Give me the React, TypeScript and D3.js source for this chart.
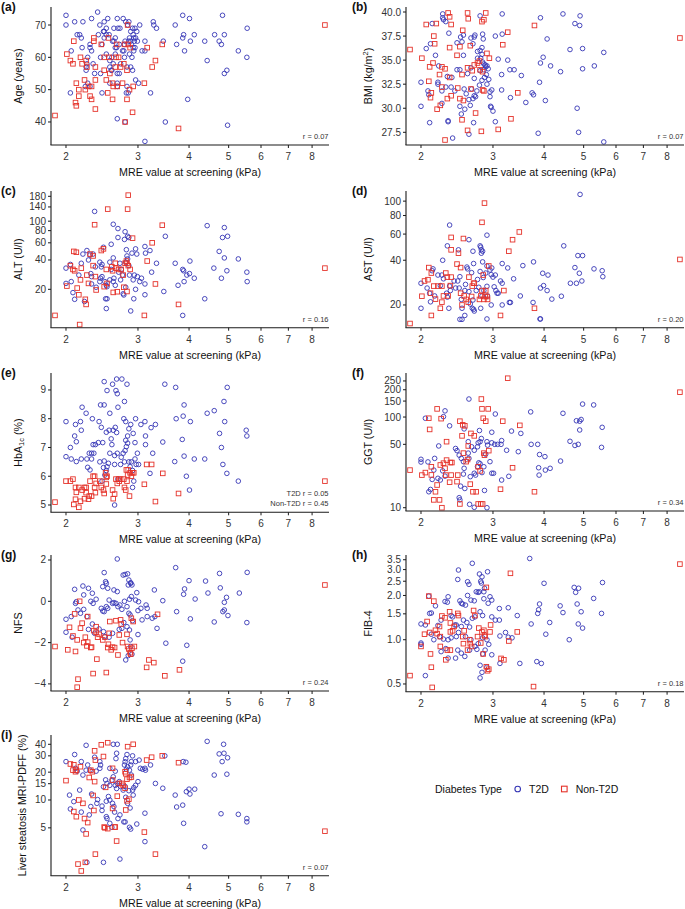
import React from 'react';
import * as d3 from 'd3';

const W = 685;
const H = 909;
const FONT = '"Liberation Sans", Arial, Helvetica, sans-serif';
const BLUE = '#3535b5';
const RED = '#e5322a';

type Pt = [number, number];

const MRE_TICKS = [2, 3, 4, 5, 6, 7, 8];
const MRE_RANGE = [1.838, 8.8];
const X_TITLE = 'MRE value at screening (kPa)';
const LEGEND_TITLE = 'Diabetes Type';
const GROUPS = ['T2D', 'Non-T2D'];

const AGE_TICKS = [40, 50, 60, 70];
const BMI_TICKS = [27.5, 30, 32.5, 35, 37.5, 40];
const ALT_TICKS = [20, 40, 60, 80, 100, 140, 180];
const AST_TICKS = [20, 40, 60, 80, 100];
const HBA1C_TICKS = [5, 6, 7, 8, 9];
const GGT_TICKS = [10, 50, 100, 150, 200, 250];
const NFS_TICKS = [-4, -2, 0, 2];
const FIB4_TICKS = [0.5, 1, 1.5, 2, 2.5, 3, 3.5];
const PDFF_TICKS = [5, 10, 15, 20, 30, 40];

const AGE_T2D: Pt[] = [[2.00,73],[2.39,74],[3.86,73],[4.83,73],[2.31,72],[2.53,72],[2.67,72],[2.76,72],[4.01,72],[2.10,71],[2.20,71],[2.48,71],[2.80,71],[2.85,71],[3.27,71],[2.00,70],[2.42,70],[2.83,70],[3.03,70],[3.28,70],[3.70,70],[2.51,69],[2.68,69],[2.71,69],[2.91,69],[2.95,69],[3.33,69],[5.55,69],[2.47,68],[2.48,68],[2.88,68],[2.98,68],[2.13,67],[2.16,67],[2.51,67],[2.92,67],[3.88,67],[4.12,67],[4.62,67],[4.88,67],[2.18,66],[2.48,66],[2.64,66],[2.93,66],[2.96,66],[3.86,66],[2.62,65],[2.79,65],[2.85,65],[2.94,65],[2.99,65],[3.12,65],[3.46,65],[4.03,65],[4.37,65],[4.74,65],[2.29,64],[2.78,64],[2.89,64],[3.73,64],[4.80,64],[2.19,63],[2.29,63],[2.64,63],[2.92,63],[2.66,63],[2.06,62],[2.31,62],[2.77,62],[2.93,62],[3.07,62],[3.12,62],[3.90,62],[5.28,62],[2.51,61],[2.64,61],[2.86,61],[2.26,60],[2.43,60],[2.59,60],[2.90,60],[5.54,60],[2.56,59],[4.43,59],[2.25,58],[2.61,58],[2.24,57],[2.56,57],[2.82,57],[2.88,57],[2.24,56],[2.59,56],[2.91,56],[4.95,56],[2.35,55],[2.43,55],[2.67,55],[4.88,55],[2.96,53],[2.26,52],[2.56,52],[2.67,52],[3.01,52],[2.23,51],[2.29,51],[2.67,51],[2.82,51],[2.05,49],[2.45,49],[2.81,49],[3.22,49],[2.84,49],[3.97,47],[2.67,41],[2.79,40],[3.50,40],[4.97,39],[3.12,34],[2.70,64],[2.75,62],[2.55,67],[2.60,65],[2.72,58],[2.86,66],[2.40,67],[2.33,58],[2.78,60],[2.45,64],[2.58,56],[2.88,65],[2.70,55],[2.62,69],[2.95,63]];
const AGE_NON: Pt[] = [[1.88,42],[2.01,61],[2.05,59],[2.08,58],[2.09,65],[2.11,46],[2.12,45],[2.12,52],[2.15,50],[2.15,48],[2.17,60],[2.19,58],[2.22,53],[2.23,50],[2.24,59],[2.25,57],[2.27,51],[2.29,48],[2.31,47],[2.31,51],[2.34,66],[2.34,65],[2.36,57],[2.36,44],[2.36,53],[2.44,64],[2.48,60],[2.48,56],[2.51,53],[2.53,49],[2.54,66],[2.55,60],[2.56,55],[2.60,47],[2.60,52],[2.61,51],[2.64,57],[2.65,60],[2.66,64],[2.67,51],[2.69,60],[2.72,57],[2.75,52],[2.77,58],[2.79,40],[2.78,64],[2.82,56],[2.82,47],[2.83,70],[2.84,64],[2.86,50],[2.87,63],[2.91,43],[2.92,51],[3.11,52],[3.16,63],[3.25,57],[3.31,59],[3.44,64],[3.77,38],[8.6,70]];

const BMI_T2D: Pt[] = [[2.26,39.8],[2.26,39.4],[2.27,39.2],[2.30,39.0],[2.13,38.8],[2.79,39.6],[3.16,39.8],[3.92,39.4],[4.45,39.8],[4.90,39.6],[4.76,38.8],[4.89,38.6],[2.34,37.8],[2.50,37.4],[2.54,37.6],[2.65,37.3],[2.70,37.4],[2.71,37.6],[2.83,37.7],[2.84,37.2],[3.04,37.5],[3.16,37.7],[4.07,37.2],[2.11,36.7],[2.06,36.2],[2.45,36.8],[2.68,36.7],[2.79,36.0],[4.63,36.1],[4.97,36.2],[5.60,35.8],[2.17,35.5],[2.54,35.5],[2.82,35.6],[3.98,35.3],[3.92,34.7],[4.15,34.4],[3.09,35.1],[3.26,35.0],[2.75,35.2],[2.21,34.4],[2.32,33.3],[2.49,34.0],[2.38,33.2],[2.70,33.1],[3.30,34.0],[3.38,34.0],[3.15,33.5],[3.52,33.4],[4.39,33.8],[4.97,34.1],[5.31,34.4],[2.00,32.7],[2.20,32.7],[2.20,32.5],[2.25,31.8],[2.30,32.2],[2.42,31.8],[2.66,32.0],[2.70,31.3],[2.95,31.2],[2.98,31.9],[3.15,31.9],[3.31,31.1],[3.74,31.6],[3.77,31.4],[3.90,32.7],[2.08,31.8],[2.09,31.4],[2.00,30.2],[2.25,30.5],[2.49,30.2],[2.51,29.4],[2.56,29.9],[2.64,30.3],[2.96,30.2],[3.00,29.7],[3.04,28.6],[3.61,30.6],[4.03,30.8],[4.82,30.0],[2.10,28.5],[2.33,28.7],[2.33,28.6],[2.69,28.5],[2.62,27.3],[2.39,26.9],[3.87,27.4],[4.86,27.5],[5.60,26.5],[2.80,35.2],[2.83,34.8],[2.85,34.6],[2.87,34.5],[2.88,34.3],[2.90,34.4],[2.92,34.1],[2.85,34.0],[2.89,33.5],[2.86,33.2],[2.82,32.9],[2.90,32.5],[2.93,33.0],[2.78,32.4],[2.74,31.8],[2.72,31.2],[2.68,31.0],[2.62,30.9],[2.58,31.5],[2.55,32.0],[2.60,33.6],[2.65,34.2],[2.75,35.9],[2.82,36.3],[2.79,33.9],[2.95,31.7],[2.97,30.1],[2.45,34.0],[2.52,36.9],[2.37,32.2]];
const BMI_NON: Pt[] = [[1.88,36.1],[2.01,35.2],[2.06,38.7],[2.09,32.8],[2.10,34.3],[2.11,31.1],[2.12,31.6],[2.14,34.7],[2.15,37.5],[2.16,36.7],[2.18,38.8],[2.19,29.9],[2.22,33.5],[2.23,30.3],[2.25,34.3],[2.25,32.2],[2.29,34.1],[2.29,26.7],[2.32,31.0],[2.33,39.9],[2.35,36.3],[2.35,33.2],[2.35,39.5],[2.37,38.7],[2.37,31.3],[2.45,35.5],[2.46,32.1],[2.49,31.0],[2.49,36.4],[2.52,33.5],[2.52,28.8],[2.53,38.1],[2.54,30.8],[2.60,39.9],[2.61,39.3],[2.60,27.7],[2.60,34.2],[2.64,36.5],[2.65,32.0],[2.67,33.9],[2.70,34.5],[2.72,29.5],[2.75,34.7],[2.78,34.9],[2.79,34.0],[2.81,27.6],[2.82,39.0],[2.83,33.8],[2.83,31.9],[2.85,39.2],[2.85,31.8],[2.88,39.9],[2.90,35.7],[2.94,35.2],[3.09,27.8],[3.17,36.6],[3.26,37.9],[3.32,28.9],[3.45,31.6],[3.79,38.6],[8.6,37.3]];

const ALT_T2D: Pt[] = [[2.35,126],[2.61,93],[2.68,84],[2.79,78],[2.83,70],[2.85,68],[2.78,65],[2.68,68],[2.58,58],[3.12,55],[3.21,50],[3.13,47],[3.50,70],[3.33,37],[3.24,30],[3.47,19],[3.70,37],[3.86,32],[3.88,31],[3.95,28],[4.01,29],[4.02,39],[4.12,26],[3.89,24],[3.76,22],[3.86,10.8],[4.37,16],[4.43,90],[4.60,33],[4.74,49],[4.80,26],[4.83,68],[4.88,86],[4.88,42],[4.95,31],[4.97,70],[5.28,41],[5.54,30],[5.55,24],[2.00,33],[2.00,23],[2.05,36],[2.06,24],[2.08,18.5],[2.10,15.8],[2.15,28],[2.18,37],[2.20,46],[2.22,15],[2.25,50],[2.27,40],[2.29,45],[2.30,29],[2.31,27],[2.31,22.7],[2.33,46],[2.36,34],[2.42,38],[2.44,34],[2.45,36],[2.47,54],[2.43,26],[2.45,27],[2.49,24],[2.50,16],[2.52,16],[2.51,12.7],[2.51,22],[2.52,21.3],[2.56,25],[2.56,38],[2.58,32],[2.61,24],[2.62,26],[2.64,22],[2.69,30],[2.72,25],[2.73,32],[2.76,18],[2.77,17.5],[2.80,21],[2.80,38],[2.81,51],[2.82,44],[2.83,41],[2.85,35],[2.86,28],[2.88,12],[2.90,47],[2.92,25],[2.93,16],[2.94,28],[2.96,20],[2.96,52],[2.98,46],[2.99,27],[3.03,24],[3.06,26],[3.12,17.6],[3.12,22.7],[2.71,37],[2.75,28],[2.61,42],[2.42,24],[2.37,21]];
const ALT_NON: Pt[] = [[1.88,10.8],[2.01,21.6],[2.05,35],[2.08,32],[2.09,49],[2.10,31],[2.12,48],[2.13,20.6],[2.15,17.6],[2.16,8.7],[2.17,25],[2.18,33],[2.23,15.8],[2.24,14],[2.25,28],[2.27,23],[2.29,46],[2.33,44],[2.33,35],[2.35,92],[2.36,27],[2.37,19.7],[2.44,50],[2.47,52],[2.48,21.3],[2.51,32],[2.52,23],[2.53,133],[2.59,34],[2.60,31],[2.61,18.6],[2.64,37],[2.65,33],[2.67,18.9],[2.69,32],[2.73,32],[2.76,28],[2.77,21],[2.79,37],[2.81,39],[2.82,19],[2.82,37],[2.83,133],[2.84,35],[2.87,32],[2.91,67],[3.11,10.8],[3.16,39],[3.25,60],[3.31,22.7],[3.44,91],[3.77,14],[8.6,33],[2.84,185]];

const AST_T2D: Pt[] = [[2.35,69],[2.32,50],[2.26,40],[2.47,47],[2.62,55],[2.68,46],[2.69,38],[2.79,50],[2.80,49],[2.81,47],[2.83,46],[2.81,44.6],[2.90,59],[2.83,39],[2.90,36.6],[2.98,35.5],[3.16,38],[3.26,35.5],[3.37,30],[3.55,36.8],[3.77,39],[3.97,32.7],[4.09,31.8],[3.99,27],[3.92,26],[4.07,25],[4.18,21.9],[4.41,22.9],[4.47,50],[4.64,28],[4.76,35.7],[4.80,28],[4.84,43],[4.88,32.7],[4.95,29],[4.97,43],[5.30,35],[5.55,34],[5.57,31],[3.50,23],[3.29,20.8],[3.31,20.8],[3.76,20.8],[3.91,16.1],[3.92,16.1],[3.16,20],[3.13,29],[3.16,28],[3.07,24],[2.90,16.1],[2.97,20],[4.90,111],[2.00,28],[2.00,19],[2.07,26],[2.11,21],[2.10,24],[2.13,34],[2.14,35],[2.16,23],[2.20,31.8],[2.23,27],[2.25,31.8],[2.27,30],[2.31,24],[2.32,22.6],[2.34,19],[2.35,26.8],[2.36,25],[2.41,29],[2.43,26],[2.46,29],[2.48,26],[2.49,31],[2.51,21.8],[2.52,19],[2.52,16],[2.56,25],[2.57,27.5],[2.59,36],[2.60,35],[2.62,24.6],[2.64,20.3],[2.66,33],[2.67,19],[2.68,21.6],[2.69,18.7],[2.70,18.2],[2.73,25],[2.75,29.7],[2.77,26.3],[2.79,33.6],[2.80,19],[2.82,23],[2.84,30.6],[2.85,25],[2.88,32.8],[2.90,26.7],[2.91,23],[2.95,34.4],[2.97,32],[3.00,30.8],[3.02,26.5],[3.04,31.8],[3.05,25],[3.09,24],[2.49,16],[2.56,17]];
const AST_NON: Pt[] = [[1.88,15],[2.01,22.9],[2.04,29],[2.09,35.7],[2.08,29.6],[2.11,24],[2.12,32.8],[2.12,17],[2.15,26.8],[2.17,21.9],[2.20,26.8],[2.23,19],[2.25,26.8],[2.25,20.9],[2.27,23],[2.30,32.8],[2.32,30.8],[2.33,23],[2.36,27],[2.37,30.8],[2.37,57],[2.37,47],[2.45,37.7],[2.47,44.6],[2.50,35.7],[2.50,24],[2.52,20],[2.54,56],[2.55,23],[2.58,21.8],[2.61,20.9],[2.62,30.8],[2.66,22.8],[2.67,26.8],[2.69,28],[2.70,28],[2.78,21.8],[2.80,23],[2.82,25],[2.82,72],[2.84,31.8],[2.85,21.8],[2.86,97],[2.87,22.8],[2.88,25],[2.90,22.8],[2.91,21.8],[2.93,36.6],[3.13,17],[3.19,25],[3.28,46],[3.35,55],[3.48,62],[3.79,19],[8.6,40.5]];

const HBA1C_T2D: Pt[] = [[2.48,9.29],[2.52,8.98],[2.60,9.2],[2.66,9.38],[2.74,9.38],[2.65,8.98],[2.67,8.87],[2.82,9.2],[3.49,9.2],[3.71,9.09],[4.96,9.09],[2.19,8.4],[2.43,8.48],[2.48,8.48],[2.68,8.4],[2.78,8.6],[3.89,8.48],[4.87,8.6],[2.24,8.19],[2.32,8.0],[2.00,7.9],[2.17,7.9],[2.11,7.8],[2.41,7.9],[2.56,8.19],[2.77,8.0],[2.80,7.9],[2.88,7.8],[2.85,7.65],[2.96,8.0],[3.05,7.8],[3.12,7.9],[3.31,7.8],[3.23,7.69],[3.72,8.0],[3.87,8.09],[4.03,7.9],[4.43,8.19],[4.61,8.28],[4.89,7.9],[4.75,7.49],[5.52,7.6],[5.54,7.4],[2.10,7.4],[2.12,7.2],[2.18,7.6],[2.44,7.7],[2.51,7.53],[2.55,7.6],[2.61,7.6],[2.64,7.7],[2.66,7.52],[2.58,7.3],[2.46,7.17],[2.40,7.17],[2.36,7.1],[2.33,7.1],[2.59,7.1],[2.83,7.4],[2.80,7.25],[2.92,7.49],[2.95,7.17],[3.13,7.4],[3.13,7.1],[3.45,7.19],[3.85,7.28],[4.80,7.0],[2.00,6.68],[2.05,7.0],[2.06,6.6],[2.12,6.51],[2.18,6.6],[2.25,6.6],[2.28,6.8],[2.31,6.8],[2.34,6.8],[2.31,6.6],[2.26,6.31],[2.29,6.22],[2.42,6.5],[2.48,6.53],[2.54,6.45],[2.52,6.33],[2.47,6.3],[2.51,6.2],[2.49,6.04],[2.45,5.83],[2.56,6.8],[2.63,6.72],[2.67,6.8],[2.63,6.41],[2.72,6.41],[2.73,6.66],[2.76,6.8],[2.79,6.89],[2.78,6.5],[2.81,7.03],[2.83,7.15],[2.85,6.5],[2.87,6.33],[2.89,6.5],[2.95,6.6],[2.97,6.41],[2.99,6.8],[3.01,6.41],[2.91,6.2],[2.91,5.61],[2.93,5.83],[2.63,5.0],[3.21,6.1],[3.26,6.8],[3.69,6.51],[3.89,6.7],[3.94,6.0],[4.12,6.6],[4.37,6.6],[4.84,6.41],[4.95,6.1],[5.28,5.83],[4.01,5.52],[2.68,5.9]];
const HBA1C_NON: Pt[] = [[1.88,5.1],[2.00,5.83],[2.05,5.83],[2.08,5.9],[2.09,5.02],[2.11,5.2],[2.11,5.61],[2.12,5.44],[2.15,4.92],[2.15,5.61],[2.17,5.13],[2.19,5.52],[2.22,5.61],[2.22,5.22],[2.24,5.43],[2.24,5.61],[2.27,5.2],[2.28,5.31],[2.29,5.83],[2.31,5.31],[2.33,6.0],[2.35,6.0],[2.35,5.61],[2.36,5.43],[2.37,5.75],[2.42,5.83],[2.44,5.61],[2.47,5.52],[2.48,5.4],[2.50,6.12],[2.51,5.96],[2.52,6.0],[2.51,5.73],[2.60,5.52],[2.61,5.22],[2.63,5.38],[2.65,5.9],[2.67,5.75],[2.69,5.9],[2.70,5.83],[2.72,5.9],[2.77,5.9],[2.78,5.61],[2.80,5.52],[2.81,6.22],[2.82,5.83],[2.84,6.22],[2.83,6.04],[2.86,5.31],[2.87,6.12],[2.89,6.0],[2.91,6.12],[2.93,6.12],[3.11,5.72],[3.15,6.41],[3.24,6.41],[3.31,5.12],[3.45,6.1],[3.77,5.4],[8.6,5.83]];

const GGT_T2D: Pt[] = [[2.05,97],[2.29,117],[2.27,101],[2.35,80],[2.21,48],[2.55,74],[2.78,71],[2.81,58],[2.79,53.5],[2.76,52],[2.61,53.5],[2.90,53.5],[2.91,49],[2.98,68],[3.04,108],[2.98,52],[3.03,50],[3.08,50],[3.14,50],[3.15,55],[3.24,43],[3.33,70],[3.51,66],[3.46,41.5],[3.71,114],[3.72,50],[3.86,50],[3.90,38.6],[4.02,36.6],[3.88,27.6],[3.89,22.9],[4.03,26],[4.14,27.2],[4.39,32.7],[4.45,110],[4.63,54],[4.76,48.6],[4.85,50],[4.80,91],[4.89,90],[4.93,94],[4.89,72],[4.97,139],[5.29,136],[5.55,77],[5.53,46.3],[3.15,20.2],[3.28,22.2],[2.86,15.5],[2.90,10],[2.70,10.1],[2.63,10.9],[2.48,12.9],[2.49,12.2],[2.56,16.3],[2.50,17.3],[2.23,20.2],[2.20,21.1],[2.15,26],[2.13,20.5],[2.11,15.9],[2.09,15],[2.00,34.2],[2.00,31.9],[2.08,32],[2.16,35],[2.26,25.5],[2.29,22.3],[2.43,45],[2.45,42.6],[2.48,38],[2.51,35],[2.54,32.2],[2.55,27.2],[2.61,40],[2.62,35],[2.66,47],[2.70,24],[2.72,22.9],[2.75,28.3],[2.77,31.3],[2.79,30.5],[2.82,24.4],[2.85,28.3],[2.88,39],[2.95,32.2],[2.98,24],[3.01,24],[2.70,43],[2.75,47],[2.64,22],[2.54,23.5],[2.62,158]];
const GGT_NON: Pt[] = [[1.88,26],[2.01,22.9],[2.05,24.4],[2.09,97],[2.10,73],[2.12,28.3],[2.12,23],[2.15,12.2],[2.17,15],[2.19,17.8],[2.19,123],[2.22,12.2],[2.24,96],[2.25,10],[2.23,29.6],[2.27,31],[2.29,27.2],[2.30,22.9],[2.31,33.5],[2.31,53.5],[2.35,19.1],[2.36,31.5],[2.37,22.9],[2.38,31.5],[2.45,19.4],[2.46,22.9],[2.49,11],[2.49,90],[2.53,82],[2.52,62],[2.54,40],[2.56,80],[2.58,32.2],[2.60,34],[2.61,48],[2.64,18.2],[2.65,66],[2.68,15],[2.70,62],[2.73,15],[2.76,11],[2.76,28.3],[2.79,25.5],[2.80,11],[2.81,158],[2.82,123],[2.83,11],[2.84,97],[2.85,40],[2.86,38],[2.88,90],[2.92,123],[2.93,42.6],[3.13,16],[3.17,90],[3.35,27.6],[3.49,81],[3.79,15],[3.26,268],[8.6,188]];

const NFS_T2D: Pt[] = [[2.67,2.05],[2.48,1.39],[2.76,1.27],[2.79,1.3],[2.83,1.33],[3.71,1.63],[4.75,1.35],[5.55,1.4],[2.50,0.95],[2.51,0.87],[2.85,1.03],[2.88,0.9],[2.84,0.79],[2.88,0.87],[2.90,0.79],[2.20,0.74],[2.27,0.63],[2.10,0.58],[2.21,0.31],[2.32,0.39],[2.46,0.71],[2.53,0.63],[2.62,0.55],[2.67,0.47],[3.29,0.55],[4.00,1.0],[4.39,0.98],[4.77,0.65],[3.90,0.6],[3.88,0.34],[4.45,0.4],[5.31,0.4],[4.94,0.19],[4.88,-0.05],[4.14,0.11],[3.45,0.03],[3.73,-0.5],[4.84,-0.5],[4.88,-0.42],[4.98,-0.69],[4.03,-0.85],[4.61,-1.0],[5.54,-1.03],[3.34,-1.31],[3.51,-2.03],[3.95,-2.13],[3.86,-2.9],[2.80,-2.84],[2.84,-2.63],[2.88,-2.19],[2.90,-2.56],[2.00,-0.87],[2.00,-1.5],[2.06,-0.74],[2.07,-1.74],[2.11,-0.1],[2.12,-0.02],[2.14,-0.42],[2.21,-0.39],[2.30,0.0],[2.33,-0.1],[2.37,0.1],[2.44,-0.34],[2.46,-0.47],[2.48,-0.5],[2.51,-0.26],[2.53,-0.34],[2.55,0.06],[2.60,-0.1],[2.62,-0.06],[2.65,-0.1],[2.68,-0.26],[2.71,-0.18],[2.74,-0.39],[2.78,0.0],[2.82,-0.26],[2.86,0.1],[2.89,0.23],[2.96,0.06],[2.98,0.42],[3.01,-0.02],[3.05,-0.34],[3.14,-0.18],[3.16,-0.34],[3.16,-0.74],[3.25,-0.82],[3.30,-0.74],[3.07,-0.9],[3.00,-0.45],[2.85,-0.58],[2.87,-0.66],[2.91,-0.94],[2.32,-1.1],[2.27,-1.36],[2.35,-1.55],[2.41,-1.34],[2.47,-1.47],[2.49,-1.71],[2.55,-1.74],[2.60,-1.55],[2.70,-1.36],[2.74,-1.31],[2.77,-1.03],[2.82,-1.23],[2.86,-1.39],[2.87,-1.87],[3.00,-1.61],[2.25,-0.74],[2.17,-0.58]];
const NFS_NON: Pt[] = [[1.88,-2.19],[2.02,-2.35],[2.04,-1.26],[2.08,-1.68],[2.10,-0.61],[2.11,-2.43],[2.13,-1.87],[2.14,-3.77],[2.13,-4.16],[2.16,0.0],[2.17,-1.3],[2.19,-1.06],[2.21,-2.0],[2.23,-1.74],[2.25,-2.16],[2.26,-0.74],[2.26,-1.98],[2.30,-2.24],[2.31,-2.22],[2.33,-3.5],[2.34,-1.42],[2.37,-1.5],[2.37,-1.23],[2.38,-2.8],[2.39,-1.74],[2.41,-1.6],[2.46,-1.87],[2.49,-1.74],[2.51,-3.45],[2.53,-2.24],[2.54,-2.08],[2.55,-1.55],[2.56,-0.98],[2.58,-2.35],[2.60,-2.22],[2.63,-2.24],[2.65,-0.94],[2.68,-2.6],[2.70,-1.63],[2.72,-0.9],[2.73,-1.1],[2.75,-2.0],[2.82,-1.6],[2.83,-2.19],[2.85,-2.31],[2.87,-2.49],[2.88,-2.56],[2.89,-0.82],[2.90,-2.27],[2.92,-0.98],[2.94,-2.19],[3.15,-3.2],[3.19,-2.84],[3.28,-2.97],[3.35,-0.63],[3.49,-3.61],[3.79,-3.32],[8.6,0.79]];

const FIB4_T2D: Pt[] = [[2.67,3.31],[2.47,2.98],[2.91,2.9],[2.78,2.8],[2.82,2.68],[2.46,2.57],[2.60,2.48],[2.62,2.38],[2.80,2.5],[2.81,2.43],[2.86,2.24],[2.85,2.12],[2.78,2.12],[3.69,3.57],[4.00,2.42],[4.74,2.27],[4.86,2.24],[4.78,2.1],[5.56,2.45],[5.29,1.91],[4.82,1.75],[4.93,1.55],[5.53,1.51],[4.38,1.7],[4.45,1.53],[3.88,1.6],[3.90,1.75],[3.86,1.51],[3.72,1.28],[3.44,1.46],[3.27,1.65],[3.11,1.63],[3.27,1.04],[3.34,1.03],[3.22,1.12],[3.11,1.36],[4.13,1.31],[4.04,1.09],[4.85,1.28],[4.97,1.2],[4.61,1.0],[3.49,0.69],[3.84,0.71],[3.94,0.69],[3.12,0.69],[2.05,0.57],[2.00,0.95],[2.00,0.93],[2.00,1.28],[2.05,1.26],[2.10,1.51],[2.12,1.52],[2.09,1.98],[2.17,1.7],[2.20,1.25],[2.24,1.36],[2.29,1.82],[2.32,1.8],[2.33,1.96],[2.37,1.46],[2.39,1.43],[2.42,1.26],[2.44,1.26],[2.47,1.12],[2.49,1.84],[2.51,1.77],[2.53,1.75],[2.57,1.72],[2.60,2.0],[2.65,1.86],[2.70,1.84],[2.73,2.12],[2.76,2.1],[2.85,1.9],[2.95,1.96],[2.92,1.77],[2.98,1.86],[2.98,1.43],[3.04,1.36],[2.83,1.46],[2.79,1.55],[2.71,1.43],[2.67,1.4],[2.63,1.22],[2.59,1.31],[2.54,1.36],[2.51,1.23],[2.44,1.05],[2.37,1.03],[2.33,1.0],[2.27,1.01],[2.22,1.05],[2.15,1.0],[2.12,1.09],[2.24,0.83],[2.30,0.87],[2.33,0.75],[2.43,0.75],[2.46,0.85],[2.51,0.81],[2.56,0.77],[2.63,0.85],[2.71,0.9],[2.74,0.86],[2.79,0.67],[2.83,0.8],[2.87,0.85],[2.90,1.0],[2.93,0.93],[2.65,1.0],[2.57,1.05],[2.76,0.94],[2.83,1.03],[2.79,0.55],[2.82,0.6],[2.90,0.65],[2.98,0.79],[3.12,1.06]];
const FIB4_NON: Pt[] = [[1.88,0.57],[2.00,0.9],[2.04,1.09],[2.07,1.33],[2.10,1.12],[2.09,1.98],[2.11,0.8],[2.12,0.65],[2.13,0.474],[2.15,1.83],[2.17,1.16],[2.19,1.1],[2.22,1.23],[2.23,1.05],[2.23,0.9],[2.25,1.45],[2.29,1.41],[2.30,0.73],[2.32,0.85],[2.35,1.55],[2.36,1.3],[2.36,1.13],[2.36,0.85],[2.39,1.15],[2.41,1.23],[2.46,1.51],[2.47,1.46],[2.53,1.05],[2.54,0.94],[2.55,1.15],[2.60,0.85],[2.63,1.0],[2.64,0.94],[2.66,0.9],[2.69,1.58],[2.71,1.46],[2.75,1.05],[2.77,1.2],[2.80,0.95],[2.82,1.13],[2.84,0.8],[2.85,1.16],[2.86,1.07],[2.87,1.05],[2.89,2.27],[2.89,0.655],[2.91,0.615],[2.93,0.63],[2.95,1.13],[2.96,1.26],[3.14,0.746],[3.19,0.73],[3.28,0.98],[3.31,2.83],[3.44,1.13],[3.77,0.48],[8.6,3.27]];

const PDFF_T2D: Pt[] = [[2.24,39],[2.00,26],[2.10,31],[2.18,26],[2.35,29],[2.42,26],[2.66,32],[2.61,40],[2.67,40],[2.65,28],[2.80,28],[2.82,31],[2.91,30],[2.96,26],[3.02,27],[2.89,26],[2.88,23.9],[2.79,25.9],[2.78,23.9],[2.81,21.5],[2.83,22.9],[2.86,21],[2.89,18.6],[2.26,23.9],[2.29,21],[2.24,21],[2.20,18.6],[2.11,22],[2.13,20.5],[2.37,20.5],[2.42,22],[2.43,23.9],[2.56,22],[2.61,17.8],[2.64,20.5],[2.50,16.5],[2.52,15.1],[2.47,13.9],[2.56,14.4],[2.59,16.4],[2.64,14.4],[2.66,13.3],[2.67,15.1],[2.70,15.8],[2.72,14],[2.76,12.8],[2.79,14],[2.85,12.6],[2.91,12.8],[2.93,13.6],[2.96,14.4],[3.00,15.8],[2.92,11.3],[2.80,10.7],[2.83,9.2],[2.87,8.2],[2.04,11.3],[2.09,9.6],[2.16,12.8],[2.31,11.6],[2.39,10.1],[2.05,8.0],[2.18,7.4],[2.30,8.5],[2.45,7.7],[2.54,10.9],[2.56,10],[2.51,9.7],[2.62,8.5],[2.63,7.4],[2.60,9.2],[2.68,6.3],[2.71,6.9],[2.77,5.8],[2.79,5.8],[2.51,6.6],[2.52,6.3],[2.56,5.6],[2.59,5.07],[2.86,5.07],[2.88,4.85],[2.98,5.5],[3.12,7.2],[3.12,3.55],[3.04,22],[3.08,21.5],[3.12,22],[3.22,23.9],[3.13,21],[3.49,30],[3.31,15.1],[3.45,13.4],[3.70,11.3],[3.73,8.4],[3.86,8.8],[3.88,5.6],[3.87,26],[3.93,25.6],[3.94,12.3],[4.00,13.1],[4.02,11.6],[4.13,13.1],[4.37,3.13],[4.43,43],[4.61,18.6],[4.74,31.5],[4.79,7.1],[4.82,26],[4.86,40],[4.87,32],[4.95,19],[4.97,28.6],[5.28,7.0],[5.54,6.3],[5.54,5.8],[2.25,2.12],[2.47,2.12],[2.71,2.3],[2.20,4.74],[2.28,6.9],[2.38,9.2],[2.45,8.6]];
const PDFF_NON: Pt[] = [[2.00,16.2],[2.05,24.5],[2.08,21],[2.09,24],[2.12,21],[2.11,20.2],[2.09,7.5],[2.12,6.6],[2.15,10],[2.17,22.9],[2.20,9.2],[2.22,6.3],[2.24,4.3],[2.26,5.7],[2.28,17.5],[2.30,21],[2.33,11.2],[2.32,20.2],[2.35,34],[2.36,27],[2.35,15.8],[2.34,7.7],[2.36,2.6],[2.14,2.03],[2.18,1.71],[2.23,2.12],[2.44,39.5],[2.47,29.5],[2.48,5.1],[2.49,5.0],[2.50,13.7],[2.53,41.6],[2.53,4.9],[2.60,22],[2.60,8.1],[2.60,16.4],[2.63,5.1],[2.64,5.1],[2.66,3.6],[2.67,11],[2.70,15.1],[2.74,15.1],[2.76,14.4],[2.79,20.2],[2.79,13.4],[2.80,7.8],[2.80,19.2],[2.82,16.8],[2.82,9.8],[2.83,37.7],[2.85,10.2],[2.86,17.5],[2.89,17.7],[2.92,40],[3.11,4.5],[3.15,27],[3.24,29],[3.31,2.6],[3.44,30],[3.77,25.3],[8.6,4.6]];

const LEFT = { x0: 51, x1: 329, titleX: 22, labelX: 1 };
const RIGHT = { x0: 406, x1: 684, titleX: 372, labelX: 352 };

const f1 = d3.format('.1f');
const fInt = d3.format('d');
const fPlain = (d: number) => String(d);

const PANELS = [
  { label: '(a)', col: 0, top: 7, bottom: 145, log: false, domain: [32.88, 75.57], ticks: AGE_TICKS, fmt: fPlain, title: [['Age (years)', 0]], t2d: AGE_T2D, non: AGE_NON, r: ['r = 0.07'] },
  { label: '(b)', col: 1, top: 7, bottom: 145, log: false, domain: [26.18, 40.52], ticks: BMI_TICKS, fmt: f1, title: [['BMI (kg/m', 0], ['2', 1], [')', 0]], t2d: BMI_T2D, non: BMI_NON, r: ['r = 0.07'] },
  { label: '(c)', col: 0, top: 191, bottom: 327.7, log: true, domain: [8.08, 204], ticks: ALT_TICKS, fmt: fPlain, title: [['ALT (U/l)', 0]], t2d: ALT_T2D, non: ALT_NON, r: ['r = 0.16'] },
  { label: '(d)', col: 1, top: 191, bottom: 327.7, log: true, domain: [14.06, 117], ticks: AST_TICKS, fmt: fPlain, title: [['AST (U/l)', 0]], t2d: AST_T2D, non: AST_NON, r: ['r = 0.20'] },
  { label: '(e)', col: 0, top: 373, bottom: 512.3, log: false, domain: [4.746, 9.59], ticks: HBA1C_TICKS, fmt: fPlain, title: [['HbA', 0], ['1c', -1], [' (%)', 0]], t2d: HBA1C_T2D, non: HBA1C_NON, r: ['T2D r = 0.05', 'Non-T2D r = 0.45'] },
  { label: '(f)', col: 1, top: 373, bottom: 511, log: true, domain: [9.2, 306], ticks: GGT_TICKS, fmt: fPlain, title: [['GGT (U/l)', 0]], t2d: GGT_T2D, non: GGT_NON, r: ['r = 0.34'] },
  { label: '(g)', col: 0, top: 555, bottom: 691, log: false, domain: [-4.344, 2.242], ticks: NFS_TICKS, fmt: fInt, title: [['NFS', 0]], t2d: NFS_T2D, non: NFS_NON, r: ['r = 0.24'] },
  { label: '(h)', col: 1, top: 555, bottom: 691.7, log: true, domain: [0.443, 3.77], ticks: FIB4_TICKS, fmt: f1, title: [['FIB-4', 0]], t2d: FIB4_T2D, non: FIB4_NON, r: ['r = 0.18'] },
  { label: '(i)', col: 0, top: 735, bottom: 875.7, log: true, domain: [1.52, 50.4], ticks: PDFF_TICKS, fmt: fPlain, title: [['Liver steatosis MRI-PDFF (%)', 0]], t2d: PDFF_T2D, non: PDFF_NON, r: ['r = 0.07'] },
];

const AXIS = '#1a1a1a';
const TICK_TEXT = '#333';

function Title({ segs, x, y }: any) {
  let cur = 0;
  return (
    <text x={x} y={y} transform={`rotate(-90, ${x}, ${y})`} textAnchor="middle" fontSize={10.7} fill="#111">
      {segs.map((s: any, i: number) => {
        const shift = s[1] === 1 ? -4 : s[1] === -1 ? 2.5 : 0;
        const dy = shift - cur;
        cur = shift;
        return (
          <tspan key={i} dy={dy} fontSize={s[1] === 0 ? 10.7 : 7.5}>{s[0]}</tspan>
        );
      })}
    </text>
  );
}

function Panel({ p }: any) {
  const c = p.col === 0 ? LEFT : RIGHT;
  const x = d3.scaleLog().domain(MRE_RANGE).range([c.x0, c.x1]);
  const y: any = (p.log ? d3.scaleLog() : d3.scaleLinear()).domain(p.domain).range([p.bottom, p.top]);
  const sq = 4.6;
  const cy = (p.top + p.bottom) / 2;
  const n = p.r.length;
  return (
    <g>
      <text x={c.labelX} y={p.top + 4} fontSize={12} fontWeight="bold" fill="#111">{p.label}</text>
      {p.t2d.map((d: Pt, i: number) => (
        <circle key={'c' + i} cx={x(d[0])} cy={y(d[1])} r={2.3} fill="none" stroke={BLUE} strokeWidth={0.9} />
      ))}
      {p.non.map((d: Pt, i: number) => (
        <rect key={'s' + i} x={x(d[0]) - sq / 2} y={y(d[1]) - sq / 2} width={sq} height={sq} fill="none" stroke={RED} strokeWidth={0.9} />
      ))}
      <line x1={c.x0} x2={c.x0} y1={p.top} y2={p.bottom} stroke={AXIS} strokeWidth={1.1} />
      <line x1={c.x0 - 0.55} x2={c.x1} y1={p.bottom} y2={p.bottom} stroke={AXIS} strokeWidth={1.1} />
      {p.ticks.map((t: number) => (
        <g key={'yt' + t}>
          <line x1={c.x0 - 3} x2={c.x0} y1={y(t)} y2={y(t)} stroke={AXIS} strokeWidth={1} />
          <text x={c.x0 - 5} y={y(t)} dy="0.35em" textAnchor="end" fontSize={10} fill={TICK_TEXT}>{p.fmt(t)}</text>
        </g>
      ))}
      {MRE_TICKS.map((t) => (
        <g key={'xt' + t}>
          <line x1={x(t)} x2={x(t)} y1={p.bottom} y2={p.bottom + 3} stroke={AXIS} strokeWidth={1} />
          <text x={x(t)} y={p.bottom + 15} textAnchor="middle" fontSize={10} fill={TICK_TEXT}>{t}</text>
        </g>
      ))}
      <text x={(c.x0 + c.x1) / 2} y={p.bottom + 31} textAnchor="middle" fontSize={10.7} fill="#111">{X_TITLE}</text>
      <Title segs={p.title} x={c.titleX + (p.label === '(i)' ? 4 : 0)} y={cy} />
      {p.r.map((s: string, i: number) => (
        <text key={'r' + i} x={c.x1 - 0.5} y={p.bottom - 6 - (n - 1 - i) * 10} textAnchor="end" fontSize={7.5} fill="#333">{s}</text>
      ))}
    </g>
  );
}

function Legend() {
  const cy = 789;
  return (
    <g fontSize={10.5} fill="#111">
      <text x={435} y={cy + 3.7}>{LEGEND_TITLE}</text>
      <circle cx={517.7} cy={cy} r={2.8} fill="none" stroke={BLUE} strokeWidth={1.1} />
      <text x={529} y={cy + 3.7}>{GROUPS[0]}</text>
      <rect x={564.3 - 2.8} y={cy - 2.8} width={5.6} height={5.6} fill="none" stroke={RED} strokeWidth={1.1} />
      <text x={575.7} y={cy + 3.7}>{GROUPS[1]}</text>
    </g>
  );
}

export default function App() {
  return (
    <svg width={W} height={H} viewBox={`0 0 ${W} ${H}`} style={{ position: 'absolute', left: 0, top: 0, display: 'block' }} fontFamily={FONT}>
      <rect width={W} height={H} fill="#fff" />
      {PANELS.map((p) => <Panel key={p.label} p={p} />)}
      <Legend />
    </svg>
  );
}
